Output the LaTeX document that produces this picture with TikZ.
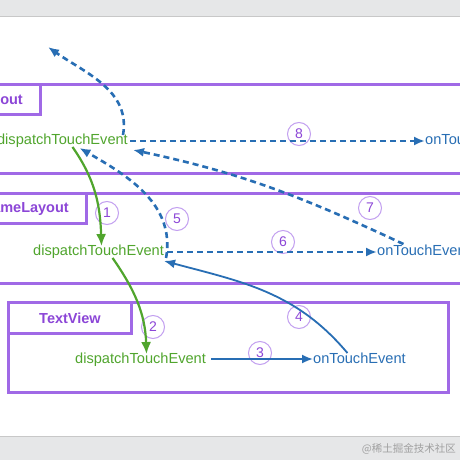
\documentclass[tikz,border=0pt]{standalone}
\usepackage{fontspec}
\setmainfont{Liberation Sans}
\newfontfamily\cjk{Noto Sans CJK SC}
\usetikzlibrary{arrows.meta}
\definecolor{evgreen}{RGB}{80,165,45}
\definecolor{evblue}{RGB}{40,110,180}
\definecolor{boxpurple}{RGB}{160,105,230}
\definecolor{labpurple}{RGB}{140,70,215}
\definecolor{circpurple}{RGB}{195,160,240}
\definecolor{bandgrey}{RGB}{230,231,232}
\definecolor{bandline}{RGB}{200,200,200}
\tikzset{
  viewbox/.style={draw=boxpurple, line width=3pt},
  vlabel/.style={font=\bfseries\fontsize{14.5}{16}\selectfont, text=labpurple, inner sep=0pt},
  dte/.style={font=\fontsize{14.6}{17}\selectfont, text=evgreen, inner sep=0pt, text height=10.5pt, text depth=3pt},
  ote/.style={font=\fontsize{14.6}{17}\selectfont, text=evblue, inner sep=0pt, text height=10.5pt, text depth=3pt},
  stepnum/.style={circle, draw=circpurple, line width=1pt, minimum size=23pt, inner sep=0pt, text=labpurple, font=\fontsize{14}{16}\selectfont},
  greenarrow/.style={draw=evgreen, line width=2.2pt, -{Latex[length=12pt,width=10pt]}},
  bluearrow/.style={draw=evblue, line width=1.8pt, -{Latex[length=11pt,width=9pt]}},
  bluedash/.style={draw=evblue, line width=2.6pt, dash pattern=on 6pt off 4pt, -{Latex[length=11pt,width=9pt]}}
}
\begin{document}
\begin{tikzpicture}[x=1pt,y=-1pt]
\useasboundingbox (0,0) rectangle (460,460);
\begin{scope}
\clip (0,0) rectangle (460,460);
\fill[white] (0,0) rectangle (460,460);
% view boxes
\draw[viewbox] (-10,84) rectangle (470,173);
\draw[viewbox] (-10,84) rectangle (40,114);
\draw[viewbox] (-10,193) rectangle (470,283);
\draw[viewbox] (-10,193) rectangle (86,223);
\draw[viewbox] (8,302) rectangle (448,392);
\draw[viewbox] (8,302) rectangle (131,333);
\node[vlabel, anchor=east] (lab1) at (23,100) {out};
\node[vlabel, anchor=east] (lab2) at (69,209) {ameLayout};
\node[vlabel] (lab3) at (70,318) {TextView};
% method texts
\node[dte, anchor=east] (d1) at (128,141) {dispatchTouchEvent};
\node[ote, anchor=west] (o1) at (425,141) {onTouchEvent};
\node[dte, anchor=west] (d2) at (33,252) {dispatchTouchEvent};
\node[ote, anchor=west] (o2) at (377,252) {onTouchEvent};
\node[dte, anchor=west] (d3) at (75,360) {dispatchTouchEvent};
\node[ote, anchor=west] (o3) at (313,360) {onTouchEvent};
\coordinate (up) at (48,47);
% step numbers
\node[stepnum] (s1) at (107,213) {1};
\node[stepnum] (s2) at (153,327) {2};
\node[stepnum] (s3) at (260,353) {3};
\node[stepnum] (s4) at (299,317) {4};
\node[stepnum] (s5) at (177,219) {5};
\node[stepnum] (s6) at (283,242) {6};
\node[stepnum] (s7) at (370,208) {7};
\node[stepnum] (s8) at (299,134) {8};
% arrows
\draw[greenarrow] ([xshift=10pt,yshift=1pt]d1.south) to[out=-55,in=92] ([xshift=3pt,yshift=-1pt]d2.north);
\draw[greenarrow] ([xshift=14pt,yshift=1pt]d2.south) to[out=-55,in=92] ([xshift=6pt,yshift=-1pt]d3.north);
\draw[bluearrow] ([xshift=5pt,yshift=1pt]d3.east) -- ([yshift=1pt]o3.west);
\draw[bluearrow] ([xshift=-12pt,yshift=0pt]o3.north) to[out=130,in=-15] ([xshift=0pt,yshift=-2pt]d2.south east);
\draw[bluedash] ([xshift=2pt,yshift=-6pt]d2.east) to[out=80,in=-30] ([xshift=17pt,yshift=0pt]d1.south);
\draw[bluedash] ([xshift=3pt]d2.east) -- (o2.west);
\draw[bluedash] ([xshift=-20pt,yshift=1pt]o2.north) to[out=155,in=-12] ([xshift=5pt,yshift=-2pt]d1.south east);
\draw[bluedash] ([xshift=2pt]d1.east) -- (o1.west);
\draw[bluedash] ([xshift=-5pt,yshift=-1pt]d1.north east) to[out=80,in=-35] (up);
% grey bands
\fill[bandgrey] (0,0) rectangle (460,17);
\draw[bandline, line width=1pt] (0,17) -- (460,17);
\fill[bandgrey] (0,436) rectangle (460,460);
\draw[bandline, line width=1pt] (0,436) -- (460,436);
\node[font=\cjk\fontsize{10.5}{12}\selectfont, text={rgb,255:red,160;green,160;blue,160}, anchor=east, inner sep=0pt] (wm) at (456,449) {@稀土掘金技术社区};
\end{scope}
\end{tikzpicture}
\end{document}
